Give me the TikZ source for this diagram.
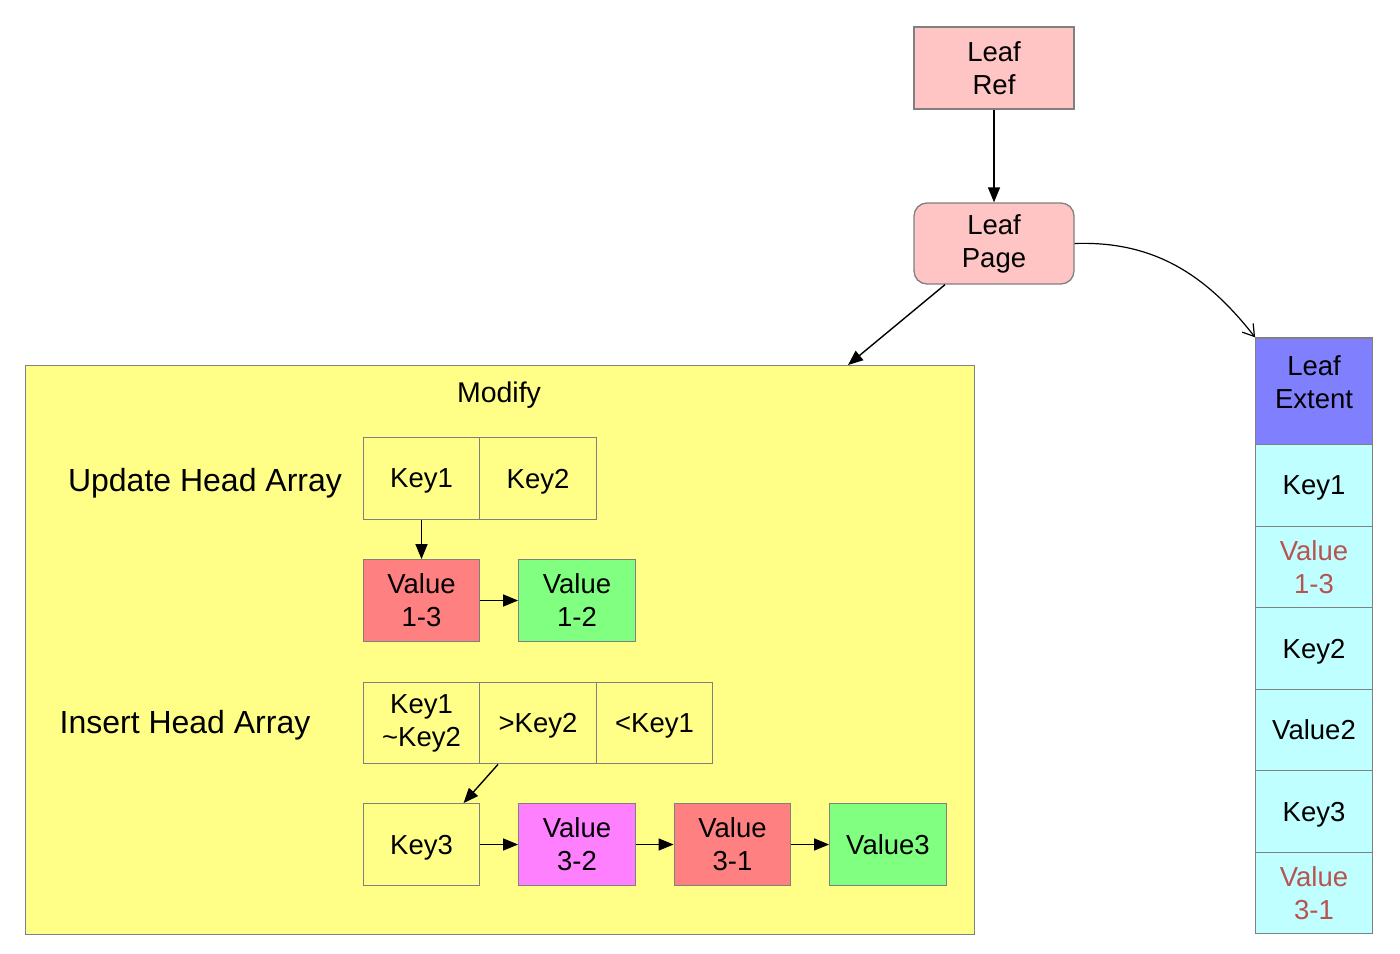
\documentclass[tikz,border=0pt]{standalone}
\usepackage{fontspec}
\setmainfont{Liberation Sans}
\usetikzlibrary{arrows.meta,calc}
\definecolor{pinkc}{HTML}{FFC4C4}
\definecolor{yellowc}{HTML}{FFFF88}
\definecolor{redc}{HTML}{FF8080}
\definecolor{greenc}{HTML}{80FF80}
\definecolor{magc}{HTML}{FF80FF}
\definecolor{bluec}{HTML}{8080FF}
\definecolor{cyanc}{HTML}{BFFFFF}
\definecolor{edgec}{HTML}{808080}
\definecolor{redtext}{HTML}{B85450}
\begin{document}
\begin{tikzpicture}[x=1pt,y=-1pt,
  cell/.style={draw=edgec, line width=1.3pt, minimum width=116.5pt, minimum height=81.5pt, inner sep=0pt, align=center, font=\fontsize{27.5}{33}\selectfont},
  one/.style={text depth=0pt},
  lbl/.style={inner sep=0pt, text depth=0pt, font=\fontsize{32}{38}\selectfont},
  arr/.style={line width=1.4pt, -{Triangle[length=15pt,width=12pt]}},
  oarr/.style={line width=1.2pt, -{Straight Barb[length=11pt,width=14pt,line width=1.2pt]}}]
\useasboundingbox (0,0) rectangle (1400,953);
% top nodes
\node[cell, fill=pinkc, minimum width=160pt, minimum height=82pt] (ref) at (994,68) {Leaf\\Ref};
\node[cell, fill=pinkc, minimum width=160pt, minimum height=81pt, rounded corners=13pt] (page) at (994,243.5) {Leaf\\Page};
% modify container
\node[draw=edgec, line width=1.3pt, fill=yellowc, minimum width=949pt, minimum height=569pt, inner sep=0pt, anchor=north west] (modify) at (25,365) {};
\node[inner sep=0pt, text depth=0pt, font=\fontsize{28.5}{33}\selectfont] (mtitle) at (499,392) {Modify};
\node[lbl] (uha) at (205,480) {Update Head Array};
\node[lbl] (iha) at (185,722) {Insert Head Array};
% update head array
\node[cell, one] (uk1) at (421.5,478.5) {Key1};
\node[cell, one] (uk2) at (538,478.5) {Key2};
\node[cell, fill=redc] (v13) at (421.5,600.5) {Value\\1-3};
\node[cell, fill=greenc] (v12) at (577,600.5) {Value\\1-2};
% insert head array
\node[cell] (ik1) at (421.5,723) {Key1\\\textasciitilde Key2};
\node[cell, one] (ik2) at (538,723) {>Key2};
\node[cell, one] (ik3) at (654.5,723) {<Key1};
\node[cell, one] (k3) at (421.5,844.5) {Key3};
\node[cell, fill=magc] (v32) at (577,844.5) {Value\\3-2};
\node[cell, fill=redc] (v31) at (732.5,844.5) {Value\\3-1};
\node[cell, one, fill=greenc] (v3) at (888,844.5) {Value3};
% leaf extent column
\node[cell, fill=bluec, minimum height=107pt] (ext) at (1314,391.5) {};
\node[inner sep=0pt, align=center, font=\fontsize{27.5}{33}\selectfont] (extlbl) at (1314,382) {Leaf\\Extent};
\node[cell, one, fill=cyanc] (e1) at (1314,485.5) {Key1};
\node[cell, fill=cyanc, text=redtext] (e2) at (1314,567) {Value\\1-3};
\node[cell, one, fill=cyanc] (e3) at (1314,648.5) {Key2};
\node[cell, one, fill=cyanc] (e4) at (1314,730) {Value2};
\node[cell, one, fill=cyanc] (e5) at (1314,811.5) {Key3};
\node[cell, fill=cyanc, text=redtext] (e6) at (1314,893) {Value\\3-1};
% connectors
\draw[arr] (ref.south) -- (page.north);
\draw[arr] ([xshift=-49pt]page.south) -- ([xshift=823pt]modify.north west);
\draw[oarr] (page.east) to[out=2, in=128] (ext.north west);
\draw[arr] (uk1.south) -- (v13.north);
\draw[arr] (v13.east) -- (v12.west);
\draw[arr] ([xshift=-40pt]ik2.south) -- ([xshift=42pt]k3.north);
\draw[arr] (k3.east) -- (v32.west);
\draw[arr] (v32.east) -- (v31.west);
\draw[arr] (v31.east) -- (v3.west);
\end{tikzpicture}
\end{document}
